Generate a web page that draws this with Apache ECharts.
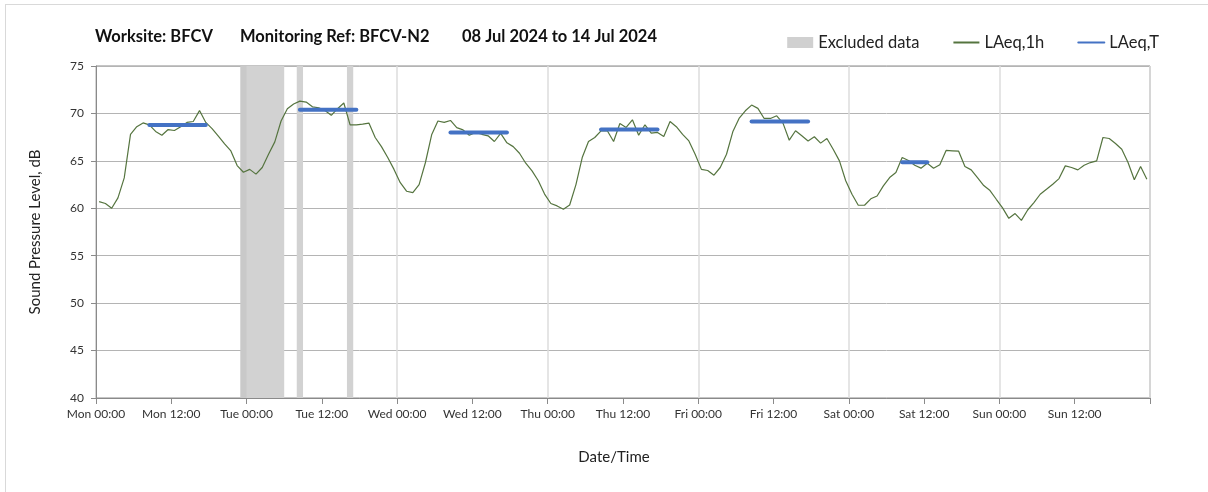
<!DOCTYPE html>
<html>
<head>
<meta charset="utf-8">
<script src="https://cdn.jsdelivr.net/npm/echarts@6/dist/echarts.min.js"></script>
<style>
html,body{margin:0;padding:0;background:#fff;}
#frame{position:absolute;left:5px;top:4px;width:1210px;height:500px;border-left:1px solid #d9d9d9;border-top:1px solid #d9d9d9;}
#chart{position:absolute;left:0;top:0;width:1208px;height:492px;}
</style>
</head>
<body>
<div id="frame"></div>
<div id="chart"></div>
<script>
// Day names for the x-axis tick labels
const dayNames = ['Mon','Tue','Wed','Thu','Fri','Sat','Sun','Mon'];
// Title parts
const titleParts = ['Worksite: BFCV', 'Monitoring Ref: BFCV-N2', '08 Jul 2024 to 14 Jul 2024'];
// Hourly LAeq,1h values (dB), first value at Mon 00:30, one per hour
const laeq1h = [
 60.7,60.5,60.0,61.1,63.2,67.8,68.6,69.0,68.8,68.1,67.7,68.3,68.2,68.6,69.05,69.15,70.3,69.05,68.4,67.6,66.8,66.05,64.5,63.8,
 64.1,63.6,64.3,65.7,67.0,69.2,70.5,71.0,71.3,71.2,70.7,70.6,70.3,69.8,70.5,71.1,68.8,68.8,68.87,68.98,67.46,66.5,65.35,64.1,
 62.7,61.8,61.65,62.5,64.8,67.75,69.2,69.05,69.26,68.5,68.27,67.7,68.0,67.8,67.64,67.04,67.9,66.9,66.5,65.8,64.75,63.94,62.9,61.5,
 60.5,60.25,59.9,60.35,62.5,65.35,67.04,67.46,68.17,68.17,67.04,68.94,68.52,69.33,67.71,68.8,67.92,68.0,67.57,69.15,68.6,67.8,67.1,65.7,
 64.1,63.98,63.49,64.3,65.7,68.06,69.47,70.28,70.88,70.53,69.47,69.47,69.75,68.98,67.18,68.17,67.64,67.1,67.54,66.87,67.36,66.23,65.0,62.9,
 61.48,60.32,60.32,61.0,61.3,62.36,63.24,63.77,65.35,65.04,64.54,64.23,64.75,64.23,64.6,66.1,66.06,66.02,64.4,64.05,63.24,62.4,61.87,60.95,
 60.04,58.94,59.44,58.73,59.82,60.6,61.48,62.0,62.54,63.13,64.47,64.3,64.05,64.54,64.82,65.0,67.46,67.36,66.83,66.23,64.82,63.0,64.4,63.06
];
const firstHour = 0.5;
// LAeq,T period segments (hours from Mon 00:00) and levels (dB)
const segStart = [8.5, 32.5, 56.5, 80.5, 104.5, 128.5];
const segEnd   = [17.5, 41.5, 65.5, 89.5, 113.5, 132.5];
const segLevel = [68.77, 70.4, 68.0, 68.3, 69.15, 64.86];
// Excluded data periods (hours from Mon 00:00)
const exclStart = [23, 32, 40];
const exclEnd   = [30, 33, 41];

const FONT = 'Lato';
const lineData = laeq1h.map((v, i) => [firstHour + i, v]);

const series = [];
series.push({
  name: 'Excluded data', type: 'line', data: [], symbol: 'none',
  itemStyle: {color: '#d0d0d0'}, lineStyle: {color: '#d0d0d0'},
  markArea: {
    silent: true,
    itemStyle: {color: '#d2d2d2'},
    data: exclStart.map((s, k) => [{xAxis: s}, {xAxis: exclEnd[k]}]).concat([[{xAxis: 23, itemStyle:{color:'rgba(0,0,0,0.04)'}}, {xAxis: 24}]])
  },
  z: 1
});
series.push({
  name: 'LAeq,1h', type: 'line', data: lineData, symbol: 'none',
  lineStyle: {color: '#55743f', width: 1.2}, itemStyle: {color: '#55743f'}, z: 3
});
segStart.forEach((s, k) => {
  series.push({
    name: 'LAeq,T', type: 'line', symbol: 'none',
    data: [[s, segLevel[k]], [segEnd[k], segLevel[k]]],
    lineStyle: {color: '#4472c4', width: 4, cap: 'round'}, itemStyle: {color: '#4472c4'}, z: 4
  });
});

const titleLeft = [95, 240, 462];
const chart = echarts.init(document.getElementById('chart'));
chart.setOption({
  animation: false,
  textStyle: {fontFamily: FONT},
  title: titleParts.map((t, k) => ({
    text: t, left: titleLeft[k], top: 28, padding: 0,
    textStyle: {fontFamily: FONT, fontSize: 16.5, fontWeight: 'bold', color: '#111'}
  })),
  legend: {
    right: 44, top: 29, itemGap: 33, itemWidth: 26, itemHeight: 11,
    textStyle: {fontFamily: FONT, fontSize: 16.5, color: '#222'},
    data: [
      {name: 'Excluded data', icon: 'rect'},
      {name: 'LAeq,1h', itemStyle: {opacity: 0}},
      {name: 'LAeq,T', itemStyle: {opacity: 0}}
    ]
  },
  grid: {left: 96, top: 66, right: 58, bottom: 94, show: true, borderColor: '#8a8a8a', borderWidth: 1},
  xAxis: [{
    type: 'value', min: 0, max: 168, interval: 12,
    name: 'Date/Time', nameLocation: 'middle', nameGap: 52,
    nameTextStyle: {fontFamily: FONT, fontSize: 15, color: '#222', padding: [0, 18, 0, 0]},
    axisLine: {show: true, lineStyle: {color: '#8a8a8a'}},
    axisTick: {show: true, length: 6, lineStyle: {color: '#8a8a8a'}},
    splitLine: {show: false},
    axisLabel: {
      fontFamily: FONT, fontSize: 12, color: '#333', margin: 10,
      formatter: v => v >= 168 ? '' : dayNames[Math.floor(v / 24)] + (v % 24 === 0 ? ' 00:00' : ' 12:00')
    }
  }, {
    type: 'value', min: 0, max: 168, interval: 24, position: 'bottom',
    axisLine: {show: false}, axisTick: {show: false}, axisLabel: {show: false},
    splitLine: {show: true, lineStyle: {color: '#dcdcdc', width: 1.5}}
  }],
  yAxis: {
    type: 'value', min: 40, max: 75, interval: 5,
    name: 'Sound Pressure Level, dB', nameLocation: 'middle', nameGap: 53,
    nameTextStyle: {fontFamily: FONT, fontSize: 15, color: '#222'},
    axisLine: {show: true, lineStyle: {color: '#8a8a8a'}},
    axisTick: {show: true, length: 5, lineStyle: {color: '#8a8a8a'}},
    splitLine: {show: true, lineStyle: {color: '#b4b4b4', width: 1}},
    axisLabel: {fontFamily: FONT, fontSize: 12, color: '#333', margin: 12}
  },
  series: series
});
</script>
</body>
</html>
